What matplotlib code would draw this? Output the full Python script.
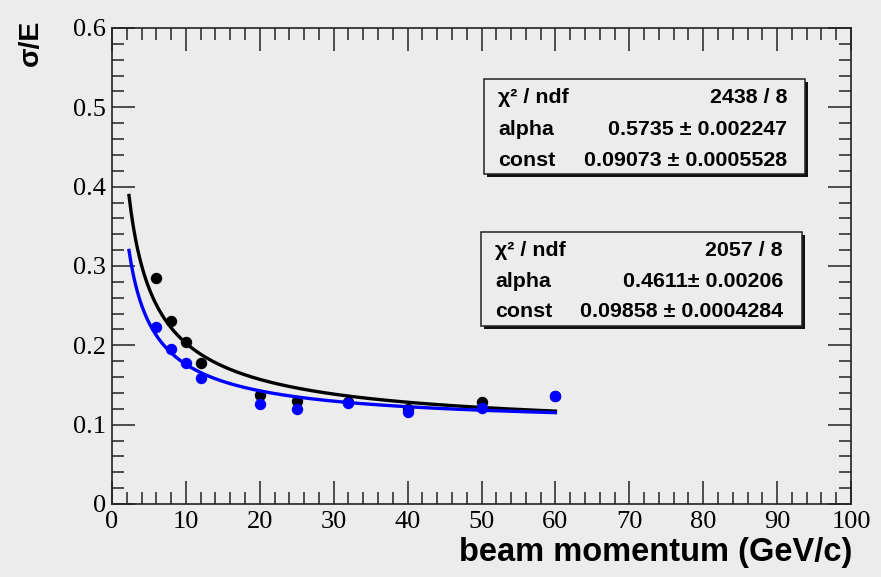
import numpy as np
import matplotlib
matplotlib.use("Agg")
import matplotlib.pyplot as plt
from matplotlib.patches import Rectangle
from matplotlib.ticker import MultipleLocator, FixedLocator, FixedFormatter

# Beam momentum (GeV/c) and measured energy resolution sigma/E
p_black = [6, 8, 10, 12, 20, 25, 32, 40, 50, 60]
s_black = [0.2845, 0.231, 0.204, 0.178, 0.137, 0.130, 0.129, 0.120, 0.128, 0.136]
p_blue = [6, 8, 10, 12, 20, 25, 32, 40, 50, 60]
s_blue = [0.2235, 0.196, 0.178, 0.159, 0.126, 0.120, 0.127, 0.1155, 0.1205, 0.1365]

# Fit results: sigma/E = alpha/sqrt(p) (+) const
fit_black = {"chi2": "2438 / 8", "alpha": 0.5735, "alpha_err": "0.002247",
             "const": 0.09073, "const_err": "0.0005528"}
fit_blue = {"chi2": "2057 / 8", "alpha": 0.4611, "alpha_err": "0.00206",
            "const": 0.09858, "const_err": "0.0004284"}
fit_range = (2.3, 60.0)

x_ticks = [0, 10, 20, 30, 40, 50, 60, 70, 80, 90, 100]
y_ticks = [0, 0.1, 0.2, 0.3, 0.4, 0.5, 0.6]
y_tick_labels = ["0", "0.1", "0.2", "0.3", "0.4", "0.5", "0.6"]

W, H = 881, 577
BG = "#ececec"
fig = plt.figure(figsize=(W / 100, H / 100), dpi=100, facecolor=BG)


def fx(x):
    return x / W


def fy(y):
    return 1 - y / H


ax_l, ax_r, ax_t, ax_b = 112, 851, 28, 504
ax = fig.add_axes([fx(ax_l), fy(ax_b), (ax_r - ax_l) / W, (ax_b - ax_t) / H])
ax.set_facecolor(BG)
ax.set_xlim(0, 100)
ax.set_ylim(0, 0.6)


def resolution(p, alpha, const):
    return np.sqrt(alpha ** 2 / p + const ** 2)


pp = np.linspace(fit_range[0], fit_range[1], 400)

ax.plot(p_black, s_black, "o", color="black", ms=7.2, zorder=3)
ax.plot(pp, resolution(pp, fit_black["alpha"], fit_black["const"]),
        color="black", lw=2.4, zorder=4)
ax.plot(p_blue, s_blue, "o", color="#0000ff", ms=7.2, zorder=5)
ax.plot(pp, resolution(pp, fit_blue["alpha"], fit_blue["const"]),
        color="#0000ff", lw=2.4, zorder=6)

# Axis frame and ticks
for s in ax.spines.values():
    s.set_linewidth(1.2)
    s.set_color("#222222")

ax.xaxis.set_major_locator(FixedLocator(x_ticks))
ax.xaxis.set_minor_locator(MultipleLocator(2))
ax.yaxis.set_major_locator(FixedLocator(y_ticks))
ax.yaxis.set_major_formatter(FixedFormatter(y_tick_labels))
ax.yaxis.set_minor_locator(MultipleLocator(0.02))
ax.tick_params(which="both", direction="in", top=True, right=True,
               color="#222222", width=1.1)
ax.tick_params(which="major", length=16.5)
ax.tick_params(which="minor", length=8.5)
ax.tick_params(axis="x", which="major", pad=5)
ax.tick_params(axis="y", which="major", pad=4.5)
for lab in ax.get_xticklabels() + ax.get_yticklabels():
    lab.set_fontfamily("Liberation Serif")
    lab.set_fontsize(19)

# Axis titles
fig.text(fx(31), fy(20), "σ/E", rotation=90, ha="center", va="top",
         fontsize=20.5, fontweight="bold", fontfamily="Liberation Sans")
fig.text(fx(852), fy(561), "beam momentum (GeV/c)", ha="right",
         va="baseline", fontsize=23.5, fontweight="bold",
         fontfamily="Liberation Sans")


def stat_box(x0, y0, x1, y1, rows, left, right):
    shadow = Rectangle((fx(x0 + 3), fy(y1 + 3)), (x1 - x0) / W, (y1 - y0) / H,
                       transform=fig.transFigure, facecolor="#111111",
                       edgecolor="none", zorder=10)
    box = Rectangle((fx(x0), fy(y1)), (x1 - x0) / W, (y1 - y0) / H,
                    transform=fig.transFigure, facecolor=BG,
                    edgecolor="#222222", lw=1.1, zorder=11)
    fig.add_artist(shadow)
    fig.add_artist(box)
    for name, value, base in rows:
        fig.text(fx(left), fy(base), name, ha="left", va="baseline",
                 fontsize=15.4, fontweight="bold",
                 fontfamily=["Liberation Sans", "DejaVu Sans"], zorder=12)
        fig.text(fx(right), fy(base), value, ha="right", va="baseline",
                 fontsize=15.4, fontweight="bold",
                 fontfamily=["Liberation Sans", "DejaVu Sans"], zorder=12)


stat_box(484, 79, 805, 174, [
    ("χ² / ndf", fit_black["chi2"], 103),
    ("alpha", f"{fit_black['alpha']} ± {fit_black['alpha_err']}", 135),
    ("const", f"{fit_black['const']:.5f} ± {fit_black['const_err']}", 166),
], 498, 787)

stat_box(481, 232, 802, 326, [
    ("χ² / ndf", fit_blue["chi2"], 256),
    ("alpha", f"{fit_blue['alpha']}± {fit_blue['alpha_err']}", 287),
    ("const", f"{fit_blue['const']:.5f} ± {fit_blue['const_err']}", 317),
], 495, 783)

fig.savefig("out.png", dpi=100, facecolor=BG)
